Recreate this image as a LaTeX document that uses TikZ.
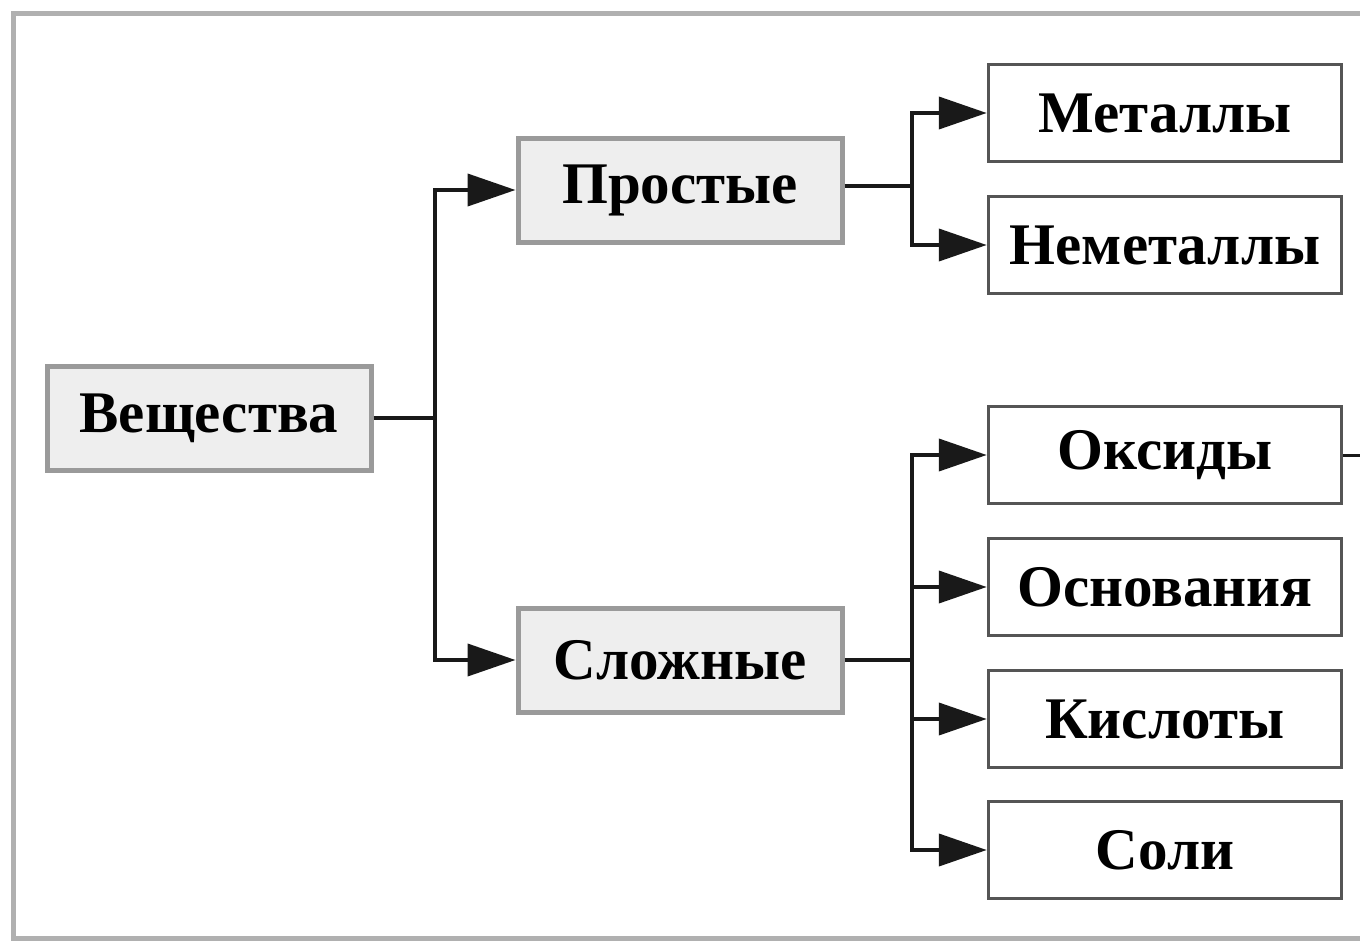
\documentclass[tikz,border=0pt]{standalone}
\usepackage{fontspec}
\setmainfont{Liberation Serif}
\usetikzlibrary{arrows.meta}
\definecolor{shade}{HTML}{EEEEEE}
\definecolor{shadeline}{HTML}{9A9A9A}
\definecolor{boxline}{HTML}{555555}
\definecolor{frameline}{HTML}{B0B0B0}
\begin{document}
\begin{tikzpicture}[x=1pt,y=-1pt,
  shaded/.style={draw=shadeline,fill=shade,line width=5pt,minimum width=324pt,minimum height=104pt,inner sep=0pt,font=\fontsize{59}{62}\selectfont\bfseries},
  plain/.style={draw=boxline,fill=white,line width=3.5pt,minimum width=353pt,minimum height=97pt,inner sep=0pt,font=\fontsize{59}{62}\selectfont\bfseries},
  conn/.style={line width=4pt,draw=black!90},
  arr/.style={conn,-{Triangle[length=48pt,width=32pt]}}]
\useasboundingbox (0,0) rectangle (1360,942);
\draw[frameline,line width=5pt] (1360,14) -- (13,14) -- (13,938) -- (1360,938);
\node[shaded] (v) at (209,418) {Вещества};
\node[shaded] (p) at (680,190) {Простые};
\node[shaded] (s) at (680,660) {Сложные};
\node[plain] (m) at (1165,113) {Металлы};
\node[plain] (n) at (1165,245) {Неметаллы};
\node[plain] (o) at (1165,455) {Оксиды};
\node[plain] (os) at (1165,587) {Основания};
\node[plain] (k) at (1165,719) {Кислоты};
\node[plain] (sl) at (1165,850) {Соли};
\coordinate (j1) at (435,418);
\coordinate (j2) at (912,186);
\coordinate (j3) at (912,660);
\coordinate (oe) at (1360,455);
\draw[conn] (v.east) -- (j1);
\draw[arr] (j1) |- (p.west);
\draw[arr] (j1) |- (s.west);
\draw[conn] (p.east |- j2) -- (j2);
\draw[arr] (j2) |- (m.west);
\draw[arr] (j2) |- (n.west);
\draw[conn] (s.east) -- (j3);
\draw[arr] (j3) |- (o.west);
\draw[arr] (j3) |- (os.west);
\draw[arr] (j3) |- (k.west);
\draw[arr] (j3) |- (sl.west);
\draw[conn,line width=3pt] (o.east) -- (oe);
\end{tikzpicture}
\end{document}
